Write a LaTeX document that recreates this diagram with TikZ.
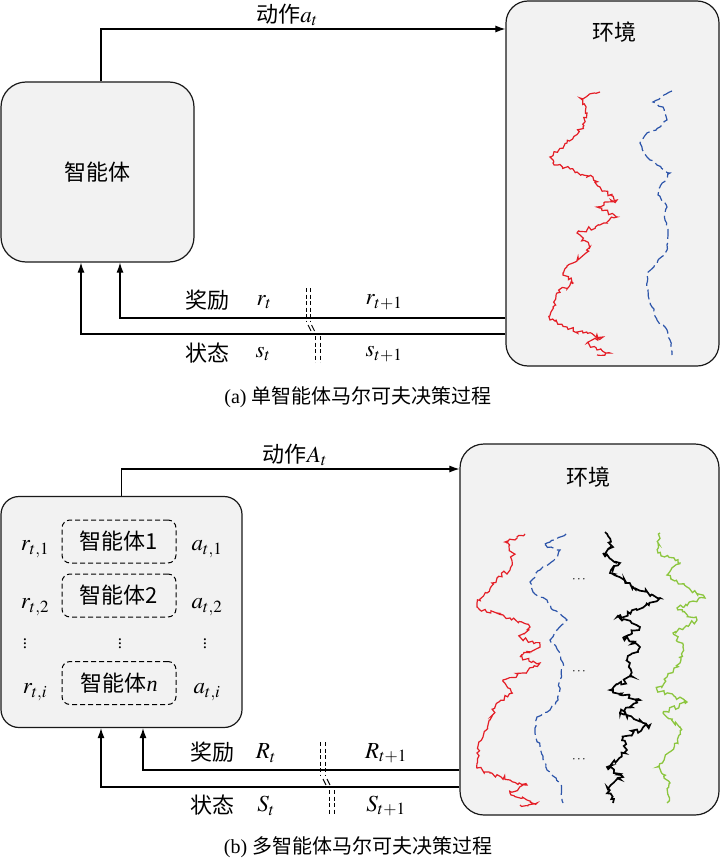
\documentclass[tikz,border=0pt]{standalone}
\usepackage{mathptmx}
\usepackage{fontspec}
\setmainfont{Liberation Serif}
\newfontfamily\cjk{Noto Sans CJK SC}
\usetikzlibrary{arrows.meta,decorations.pathmorphing}
\definecolor{boxfill}{RGB}{242,242,242}
\definecolor{cred}{RGB}{228,30,38}
\definecolor{cblue}{RGB}{45,85,170}
\definecolor{cgreen}{RGB}{140,198,63}
\tikzset{
  bigbox/.style={draw=black!90, line width=1.2pt, fill=boxfill, inner sep=0pt},
  agbox/.style={dashed, draw, dash pattern=on 5pt off 3pt, rounded corners=8pt, line width=1pt, minimum width=114pt, minimum height=43pt, inner sep=0pt, font=\cjk\fontsize{22}{26}\selectfont},
  conn/.style={line width=1.1pt},
  arr/.style={conn, -{Latex[length=10pt,width=7pt]}},
  brk/.style={line width=1pt, dash pattern=on 4pt off 2.5pt},
  lbl/.style={font=\fontsize{23}{27}\selectfont, inner sep=0pt},
  vdt/.style={font=\fontsize{17}{17}\selectfont, inner sep=0pt},
  cj/.style={font=\cjk\fontsize{22}{26}\selectfont, inner sep=0pt},
  captext/.style={font=\fontsize{20}{24}\selectfont, inner sep=0pt},
  wavered/.style={draw=cred, line width=1.2pt, decorate, decoration={random steps, segment length=2.5pt, amplitude=2.2pt}},
  waveblue/.style={draw=cblue, line width=1.2pt, dash pattern=on 10pt off 4pt, decorate, decoration={random steps, segment length=3pt, amplitude=1.2pt}},
  waveblack/.style={draw=black, line width=1.7pt, decorate, decoration={random steps, segment length=2.5pt, amplitude=2.4pt}},
  wavegreen/.style={draw=cgreen, line width=1.3pt, decorate, decoration={random steps, segment length=2.5pt, amplitude=2.2pt}},
}
\begin{document}
\begin{tikzpicture}[x=1pt,y=-1pt]
\path[use as bounding box] (0,0) rectangle (721,864);
\pgfmathsetseed{11}
% ---------- (a) ----------
\node[bigbox, rounded corners=25pt, minimum width=193pt, minimum height=180pt] (agA) at (97.5,172) {};
\node[cj] (agAt) at (agA.center) {智能体};
\node[bigbox, rounded corners=22pt, minimum width=213pt, minimum height=365pt] (envA) at (612.5,183.5) {};
\node[cj] (envAt) at (614,32) {环境};
\draw[wavered] (600,92) -- (580,98) -- (587,113) -- (583,127) -- (567,143) -- (550,157) -- (553,163) -- (577,172) -- (593,177) -- (600,187) -- (617,200) -- (597,207) -- (617,217) -- (587,230) -- (577,233) -- (590,247) -- (573,263) -- (563,273) -- (573,283) -- (557,293) -- (553,307) -- (550,320) -- (567,327) -- (583,333) -- (603,337) -- (587,343) -- (597,350) -- (610,353) -- (597,355);
\draw[waveblue] (672,91) -- (653,102) -- (663,107) -- (667,120) -- (660,127) -- (647,133) -- (640,143) -- (647,157) -- (657,165) -- (670,173) -- (660,187) -- (658,195) -- (667,207) -- (665,220) -- (668,233) -- (667,250) -- (657,263) -- (647,273) -- (648,290) -- (652,307) -- (657,320) -- (667,330) -- (670,340) -- (672,355);
\draw[arr] ([xshift=3.5pt]agA.north) |- (envA.west |- 0,29);
\node[lbl] (actA) at (287,15) {{\cjk\fontsize{22}{26}\selectfont 动作}$a_t$};
\draw[arr] (envA.west |- 0,318) -| ([xshift=22.5pt]agA.south);
\draw[arr] (envA.west |- 0,334) -| ([xshift=-16.5pt]agA.south);
\node[cj] (rwA) at (207,300) {奖励};
\node[lbl] (rtA) at (264,302) {$r_t$};
\node[lbl] (rt1A) at (384,302) {$r_{t+1}$};
\node[cj] (stA) at (207,353) {状态};
\node[lbl] (stvA) at (263,354) {$s_t$};
\node[lbl] (st1A) at (384,354) {$s_{t+1}$};
\draw[brk] (306,288) -- (306,322);
\draw[brk] (310,288) -- (310,322);
\draw[line width=0.9pt] (308,325) -- (311,331);
\draw[line width=0.9pt] (311.5,325) -- (314.5,331);
\draw[brk] (315,336) -- (315,362);
\draw[brk] (320,336) -- (320,362);
\node[captext] (capA) at (358,397) {(a) {\cjk 单智能体马尔可夫决策过程}};
% ---------- (b) ----------
\node[bigbox, rounded corners=18pt, minimum width=241pt, minimum height=231pt] (agB) at (121.5,612) {};
\node[agbox] (ag1) at (119,541.5) {智能体1};
\node[agbox] (ag2) at (119,595.5) {智能体2};
\node[agbox] (agn) at (119,683) {智能体\fontspec{Liberation Serif}\itshape n};
\node[lbl] (r1) at (35,549) {$r_{t,1}$};
\node[lbl] (r2) at (35,607) {$r_{t,2}$};
\node[vdt] (rd) at (25,641) {$\vdots$};
\node[lbl] (ri) at (35,692) {$r_{t,i}$};
\node[lbl] (a1) at (207,549) {$a_{t,1}$};
\node[lbl] (a2) at (207,607) {$a_{t,2}$};
\node[vdt] (ad) at (205,641) {$\vdots$};
\node[lbl] (ai) at (207,692) {$a_{t,i}$};
\node[vdt] (md) at (120,641) {$\vdots$};
\node[bigbox, rounded corners=24pt, minimum width=259pt, minimum height=371pt] (envB) at (589.5,629.5) {};
\node[cj] (envBt) at (588,477) {环境};
\draw[wavered] (525,534) -- (505,542) -- (513,553) -- (510,570) -- (497,578) -- (487,593) -- (477,603) -- (480,610) -- (510,618) -- (530,627) -- (520,637) -- (540,645) -- (520,657) -- (540,663) -- (523,673) -- (503,680) -- (513,693) -- (497,703) -- (490,720) -- (483,737) -- (477,753) -- (477,768) -- (490,773) -- (510,780) -- (527,785) -- (510,793) -- (527,800) -- (537,803) -- (520,805);
\draw[waveblue] (566,534) -- (543,545) -- (560,550) -- (557,557) -- (540,570) -- (530,582) -- (533,592) -- (547,600) -- (553,610) -- (567,620) -- (557,630) -- (550,640) -- (560,653) -- (563,667) -- (560,680) -- (558,700) -- (550,710) -- (537,717) -- (535,733) -- (540,747) -- (547,770) -- (560,783) -- (563,803);
\draw[waveblack] (605,532) -- (613,547) -- (603,553) -- (620,563) -- (610,573) -- (633,587) -- (660,598) -- (637,610) -- (617,617) -- (640,627) -- (623,637) -- (640,647) -- (627,660) -- (633,677) -- (610,690) -- (640,700) -- (620,713) -- (650,725) -- (623,737) -- (627,750) -- (607,767) -- (623,777) -- (607,787) -- (613,803);
\draw[wavegreen] (660,533) -- (658,553) -- (680,563) -- (667,575) -- (687,587) -- (705,598) -- (677,608) -- (697,620) -- (673,633) -- (683,647) -- (680,663) -- (667,677) -- (657,690) -- (687,702) -- (663,713) -- (680,727) -- (677,743) -- (657,767) -- (670,783) -- (667,803);
\node[font=\fontsize{13}{15}\selectfont, inner sep=0pt] (dd1) at (579,580) {$\cdots$};
\node[font=\fontsize{13}{15}\selectfont, inner sep=0pt] (dd2) at (579,672) {$\cdots$};
\node[font=\fontsize{13}{15}\selectfont, inner sep=0pt] (dd3) at (579,760) {$\cdots$};
\draw[arr] (agB.north) |- (envB.west |- 0,469);
\node[lbl] (actB) at (295,455) {{\cjk\fontsize{22}{26}\selectfont 动作}$A_t$};
\draw[arr] (envB.west |- 0,770) -| ([xshift=21.5pt]agB.south);
\draw[arr] (envB.west |- 0,787) -| ([xshift=-20.5pt]agB.south);
\node[cj] (rwB) at (212,752) {奖励};
\node[lbl] (rtB) at (266,753) {$R_t$};
\node[lbl] (rt1B) at (386,753) {$R_{t+1}$};
\node[cj] (stB) at (212,805) {状态};
\node[lbl] (stvB) at (266,806) {$S_t$};
\node[lbl] (st1B) at (386,806) {$S_{t+1}$};
\draw[brk] (320,742) -- (320,776);
\draw[brk] (325,742) -- (325,776);
\draw[line width=0.9pt] (323,779) -- (326,785);
\draw[line width=0.9pt] (327,779) -- (330,785);
\draw[brk] (329,790) -- (329,815);
\draw[brk] (334,790) -- (334,815);
\node[captext] (capB) at (358,847) {(b) {\cjk 多智能体马尔可夫决策过程}};
\end{tikzpicture}
\end{document}
